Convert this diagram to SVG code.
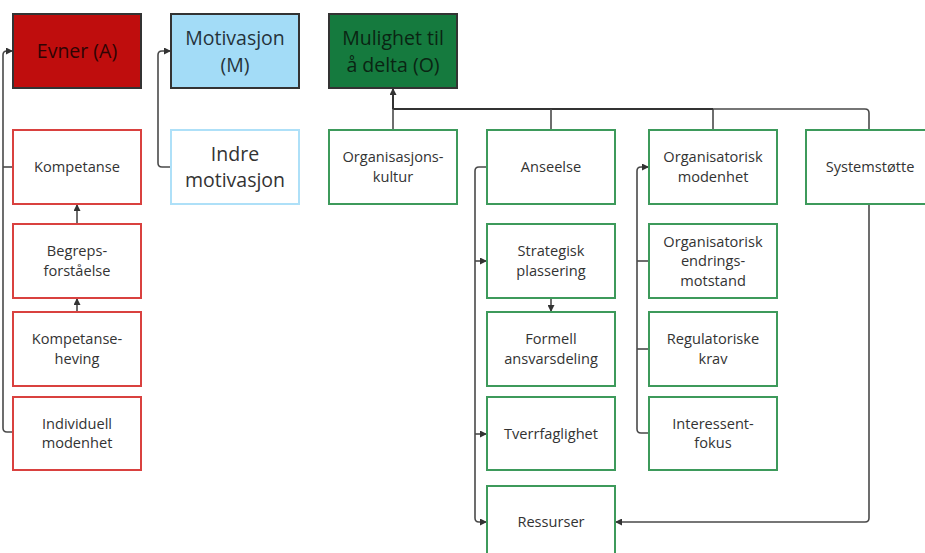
<svg xmlns="http://www.w3.org/2000/svg" width="925" height="553" viewBox="0 0 925 553">
<defs>
<marker id="arr" viewBox="0 0 8 8" refX="8" refY="4" markerWidth="7" markerHeight="7" markerUnits="userSpaceOnUse" orient="auto">
<path d="M0,0 L8,4 L0,8 Z" fill="#333"/>
</marker>
<style>
.t{font-family:"Open Sans","Liberation Sans",sans-serif;font-size:14.6px;fill:#333;text-anchor:middle}
.b{font-family:"Open Sans","Liberation Sans",sans-serif;font-size:19.5px;text-anchor:middle}
.red{fill:#fff;stroke:#d9413f;stroke-width:2}
.grn{fill:#fff;stroke:#3d9a5b;stroke-width:2}
.blu{fill:#fff;stroke:#aee0f8;stroke-width:2}
.c{fill:none;stroke:#4a4a4a;stroke-width:1.6}
.cd{fill:none;stroke:#333;stroke-width:2}
</style>
</defs>
<rect width="925" height="553" fill="#fff"/>
<g id="connectors">
<path class="c" d="M13,432 H7 Q3,432 3,428 V55 Q3,51 7,51 H13" marker-end="url(#arr)"/>
<path class="c" d="M13,167 H3"/>
<path class="c" d="M77,312 V298" marker-end="url(#arr)"/>
<path class="c" d="M77,224 V204" marker-end="url(#arr)"/>
<path class="c" d="M171,167 H162 Q158,167 158,163 V55 Q158,51 162,51 H171" marker-end="url(#arr)"/>
<path class="c" d="M869,130 V113 Q869,109 865,109 H713"/>
<path class="c" d="M713,130 V109"/>
<path class="cd" d="M713,109 H393"/>
<path class="c" d="M551,130 V109"/>
<path class="c" d="M393,130 V109"/>
<path class="cd" d="M393,109 V88" marker-end="url(#arr)"/>
<path class="c" d="M487,167 H479 Q475,167 475,171 V518 Q475,522 479,522 H487" marker-end="url(#arr)"/>
<path class="c" d="M475,261 H487" marker-end="url(#arr)"/>
<path class="c" d="M475,434 H487" marker-end="url(#arr)"/>
<path class="c" d="M551,298 V312" marker-end="url(#arr)"/>
<path class="c" d="M649,433 H641 Q637,433 637,429 V171 Q637,167 641,167 H649" marker-end="url(#arr)"/>
<path class="c" d="M649,261 H637"/>
<path class="c" d="M649,349 H637"/>
<path class="c" d="M869,204 V518 Q869,522 865,522 H615" marker-end="url(#arr)"/>
</g>
<g id="evner">
<rect x="13" y="14" width="128" height="74" fill="#bf0d0d" stroke="#333" stroke-width="2"/>
<text class="b" x="77" y="58" fill="#2e0404">Evner (A)</text>
</g>
<g id="motivasjon">
<rect x="171" y="14" width="128" height="74" fill="#a3dcf7" stroke="#333" stroke-width="2"/>
<text class="b" x="235" y="45" fill="#25333b">Motivasjon</text>
<text class="b" x="235" y="72" fill="#25333b">(M)</text>
</g>
<g id="mulighet">
<rect x="329" y="14" width="128" height="74" fill="#157a3e" stroke="#333" stroke-width="2"/>
<text class="b" x="393" y="45" fill="#0a2513">Mulighet til</text>
<text class="b" x="393" y="72" fill="#0a2513">å delta (O)</text>
</g>
<g id="kompetanse">
<rect class="red" x="13" y="130" width="128" height="74"/>
<text class="t" x="77" y="172">Kompetanse</text>
</g>
<g id="begreps">
<rect class="red" x="13" y="224" width="128" height="74"/>
<text class="t" x="77" y="256">Begreps-</text>
<text class="t" x="77" y="275.5">forståelse</text>
</g>
<g id="kompetanseheving">
<rect class="red" x="13" y="312" width="128" height="74"/>
<text class="t" x="77" y="344">Kompetanse-</text>
<text class="t" x="77" y="363.5">heving</text>
</g>
<g id="individuell">
<rect class="red" x="13" y="397" width="128" height="73"/>
<text class="t" x="77" y="428.5">Individuell</text>
<text class="t" x="77" y="448">modenhet</text>
</g>
<g id="indre">
<rect class="blu" x="171" y="130" width="128" height="74"/>
<text class="b" x="235" y="161" fill="#333">Indre</text>
<text class="b" x="235" y="187" fill="#333">motivasjon</text>
</g>
<g id="orgkultur">
<rect class="grn" x="329" y="130" width="128" height="74"/>
<text class="t" x="393" y="162">Organisasjons-</text>
<text class="t" x="393" y="181.5">kultur</text>
</g>
<g id="anseelse">
<rect class="grn" x="487" y="130" width="128" height="74"/>
<text class="t" x="551" y="172">Anseelse</text>
</g>
<g id="strategisk">
<rect class="grn" x="487" y="224" width="128" height="74"/>
<text class="t" x="551" y="256">Strategisk</text>
<text class="t" x="551" y="275.5">plassering</text>
</g>
<g id="formell">
<rect class="grn" x="487" y="312" width="128" height="74"/>
<text class="t" x="551" y="344">Formell</text>
<text class="t" x="551" y="363.5">ansvarsdeling</text>
</g>
<g id="tverrfaglighet">
<rect class="grn" x="487" y="397" width="128" height="73"/>
<text class="t" x="551" y="439">Tverrfaglighet</text>
</g>
<g id="ressurser">
<rect class="grn" x="487" y="486" width="128" height="74"/>
<text class="t" x="551" y="527">Ressurser</text>
</g>
<g id="orgmodenhet">
<rect class="grn" x="649" y="130" width="128" height="74"/>
<text class="t" x="713" y="162">Organisatorisk</text>
<text class="t" x="713" y="181.5">modenhet</text>
</g>
<g id="endringsmotstand">
<rect class="grn" x="649" y="224" width="128" height="74"/>
<text class="t" x="713" y="246.5">Organisatorisk</text>
<text class="t" x="713" y="266">endrings-</text>
<text class="t" x="713" y="285.5">motstand</text>
</g>
<g id="regulatoriske">
<rect class="grn" x="649" y="312" width="128" height="74"/>
<text class="t" x="713" y="344">Regulatoriske</text>
<text class="t" x="713" y="363.5">krav</text>
</g>
<g id="interessent">
<rect class="grn" x="649" y="397" width="128" height="73"/>
<text class="t" x="713" y="428.5">Interessent-</text>
<text class="t" x="713" y="448">fokus</text>
</g>
<g id="systemstotte">
<rect class="grn" x="806" y="130" width="128" height="74"/>
<text class="t" x="870" y="172">Systemstøtte</text>
</g>
</svg>
